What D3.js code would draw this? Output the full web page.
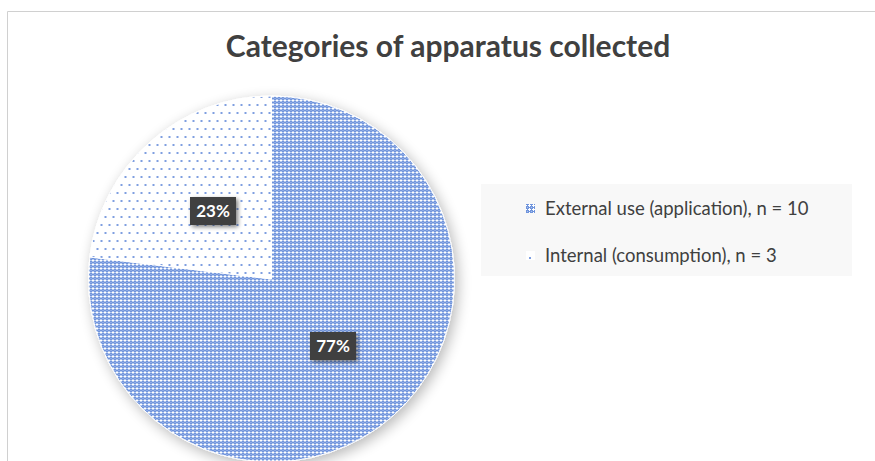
<!DOCTYPE html>
<html><head><meta charset="utf-8">
<script src="https://cdn.jsdelivr.net/npm/d3@7"></script>
<style>body{margin:0;background:#fff;}svg{display:block;}</style>
</head><body>
<svg id="c" width="875" height="461"></svg>
<script>
const title = "Categories of apparatus collected";
const categories = ["External use (application), n = 10", "Internal (consumption), n = 3"];
const counts = [10, 3];
const labels = ["77%", "23%"];

const svg = d3.select("#c");
const defs = svg.append("defs");
const FONT = "Lato, 'Open Sans', sans-serif";

// patterns
const p1 = defs.append("pattern").attr("id","pExt").attr("patternUnits","userSpaceOnUse").attr("width",4).attr("height",4);
p1.append("rect").attr("width",4).attr("height",4).attr("fill","#6f94dc");
p1.append("rect").attr("x",1).attr("y",0).attr("width",1).attr("height",3).attr("fill","#fff");
p1.append("rect").attr("x",0).attr("y",1).attr("width",3).attr("height",1).attr("fill","#fff");
p1.append("rect").attr("x",3).attr("y",3).attr("width",1).attr("height",1).attr("fill","#aac0ee");

const p2 = defs.append("pattern").attr("id","pInt").attr("patternUnits","userSpaceOnUse").attr("width",8).attr("height",16);
p2.append("rect").attr("width",8).attr("height",16).attr("fill","#fff");
p2.append("rect").attr("x",1).attr("y",1).attr("width",2).attr("height",2).attr("fill","#7f9fe0");
p2.append("rect").attr("x",5).attr("y",9).attr("width",2).attr("height",2).attr("fill","#7f9fe0");

const f = defs.append("filter").attr("id","sh").attr("x","-20%").attr("y","-20%").attr("width","140%").attr("height","140%");
f.append("feGaussianBlur").attr("in","SourceAlpha").attr("stdDeviation",7);
f.append("feOffset").attr("dx",3).attr("dy",4).attr("result","b");
f.append("feComponentTransfer").append("feFuncA").attr("type","linear").attr("slope",0.28);
const m = f.append("feMerge"); m.append("feMergeNode"); m.append("feMergeNode").attr("in","SourceGraphic");

const f2 = defs.append("filter").attr("id","sh2").attr("x","-30%").attr("y","-30%").attr("width","160%").attr("height","160%");
f2.append("feGaussianBlur").attr("in","SourceAlpha").attr("stdDeviation",2);
f2.append("feOffset").attr("dx",2).attr("dy",2);
f2.append("feComponentTransfer").append("feFuncA").attr("type","linear").attr("slope",0.5);
const m2 = f2.append("feMerge"); m2.append("feMergeNode"); m2.append("feMergeNode").attr("in","SourceGraphic");

// chart border
svg.append("path").attr("d","M7.5,461 V11.5 H875").attr("fill","none").attr("stroke","#d0d0d0").attr("stroke-width",1);

// title
svg.append("text").attr("x",448).attr("y",57).attr("text-anchor","middle")
  .attr("font-family",FONT).attr("font-weight","bold").attr("font-size",30)
  .attr("fill","#404040").text(title);

const cx = 271.5, cy = 279, r = 183;
const pie = d3.pie().sort(null).value(d=>d)(counts);
const arc = d3.arc().innerRadius(0).outerRadius(r);
const g = svg.append("g").attr("transform",`translate(${cx},${cy})`);
const fills = ["url(#pExt)","url(#pInt)"];
const gs = g.append("g").attr("filter","url(#sh)");
gs.selectAll("path").data(pie).join("path").attr("d",arc).attr("fill",(d,i)=>fills[i])
  .attr("stroke","#fff").attr("stroke-width",1);

// data labels
const lpos = [[333-cx,346-cy],[213-cx,211-cy]];
pie.forEach((d,i)=>{
  const [x,y] = lpos[i];
  const lg = g.append("g").attr("transform",`translate(${x},${y})`);
  lg.append("rect").attr("x",-23).attr("y",-14).attr("width",46).attr("height",28).attr("fill","#404040").attr("filter","url(#sh2)");
  lg.append("text").attr("text-anchor","middle").attr("dy","0.36em")
    .attr("font-family",FONT).attr("font-weight","bold").attr("font-size",17)
    .attr("fill","#fff").text(labels[i]);
});

// legend
svg.append("rect").attr("x",481).attr("y",184).attr("width",371).attr("height",92).attr("fill","#f8f8f8");
const ly = [209, 256];
categories.forEach((c,i)=>{
  svg.append("rect").attr("x",526).attr("y",ly[i]-5).attr("width",9).attr("height",9).attr("fill",fills[i]);
  svg.append("text").attr("x",545).attr("y",ly[i]).attr("dy","0.35em")
    .attr("font-family",FONT).attr("font-size",18.5).attr("fill","#404040").text(c);
});
</script>
</body></html>
